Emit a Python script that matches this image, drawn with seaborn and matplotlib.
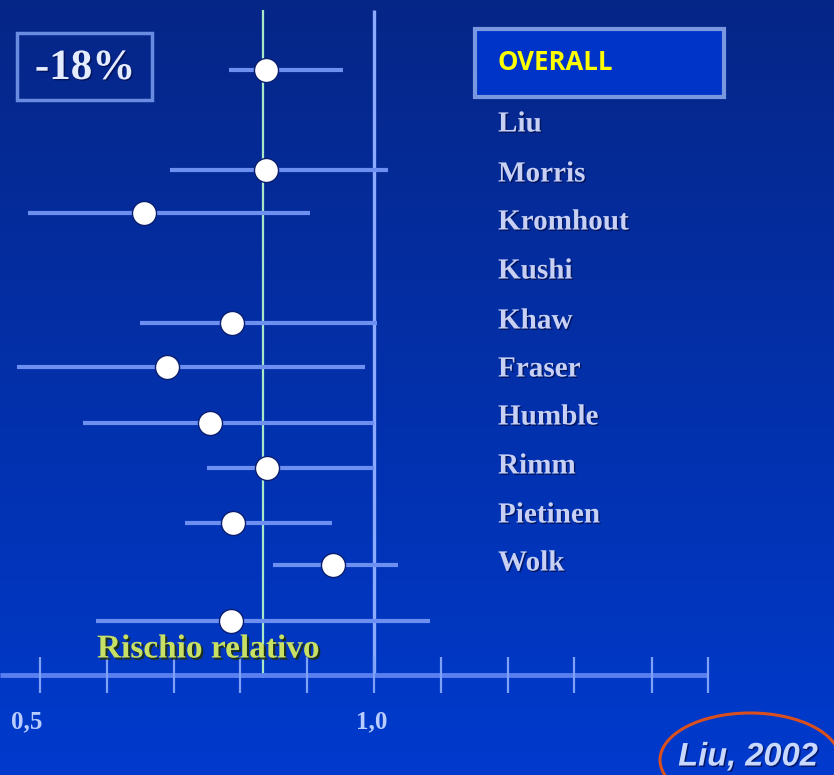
import numpy as np
import pandas as pd
import matplotlib
matplotlib.use("Agg")
import matplotlib.pyplot as plt
import seaborn as sns
from matplotlib.patches import Rectangle, Ellipse
import matplotlib.patheffects as pe

# Relative risk estimates with 95% confidence intervals (top row = pooled)
estimates = [0.838, 0.838, 0.656, 0.787, 0.690, 0.754, 0.840, 0.789, 0.939, 0.786]
ci_lower = [0.783, 0.695, 0.482, 0.650, 0.466, 0.564, 0.750, 0.717, 0.849, 0.584]
ci_upper = [0.954, 1.021, 0.904, 1.004, 0.987, 1.000, 1.000, 0.937, 1.036, 1.084]
pooled_rr = 0.834

study_names = ["Liu", "Morris", "Kromhout", "Kushi", "Khaw", "Fraser",
               "Humble", "Rimm", "Pietinen", "Wolk"]
tick_values = [0.5, 0.6, 0.7, 0.8, 0.9, 1.0, 1.1, 1.2, 1.3, 1.416, 1.5]
tick_labels = {0.5: "0,5", 1.0: "1,0"}

# vertical placement of rows and labels (figure pixels from the top)
row_y = [70, 170, 213, 323, 367, 423, 468, 523, 565, 621]
label_y = [124, 174, 222, 271, 321, 369, 417, 466, 515, 563]

W, H = 834, 775
fig = plt.figure(figsize=(W / 100, H / 100), dpi=100)

# blue slide background, darker at the top
bg = fig.add_axes([0, 0, 1, 1])
top = np.array([6, 38, 135]) / 255
bottom = np.array([0, 58, 205]) / 255
t = np.linspace(0, 1, 256)[:, None, None]
grad = top * (1 - t) + bottom * t
grad = np.repeat(grad, 4, axis=1)
bg.imshow(grad, aspect="auto", extent=[0, 1, 0, 1], origin="upper")
bg.axis("off")

# data axes: x in relative-risk units, y in pixel rows
ax = fig.add_axes([0, 0, 1, 1])
ax.patch.set_alpha(0)
x0 = 0.5 - 40 / 668
x1 = 0.5 + (W - 40) / 668
ax.set_xlim(x0, x1)
ax.set_ylim(H, 0)
ax.axis("off")

df = pd.DataFrame({"rr": estimates, "lo": ci_lower, "hi": ci_upper, "y": row_y})

ax.vlines(1.0, 10, 675, color="#8cabff", lw=2.4, zorder=2)
ax.vlines(pooled_rr, 10, 678, color="#a8e8c8", lw=1.6, zorder=2)
ax.hlines(df["y"], df["lo"], df["hi"], color="#6d8ff0", lw=3.0, zorder=3)
sns.scatterplot(data=df, x="rr", y="y", ax=ax, s=300, color="white",
                edgecolor="#0a1e70", linewidth=1.0, zorder=5, legend=False)

# relative-risk axis
ax.hlines(675, x0, 1.5, color="#5a80f0", lw=3.5, zorder=2)
ax.vlines(tick_values, 657, 693, color="#7ea0f5", lw=1.6, zorder=2)
for v, s in tick_labels.items():
    ax.text(v - 0.02 if v == 0.5 else v - 0.003, 722, s, ha="center", va="center",
            family="Liberation Serif", weight="bold", fontsize=18, color="#b8ccff")
ax.set_xlabel("")
ax.set_ylabel("")

# annotation layer in pixel coordinates
ov = fig.add_axes([0, 0, 1, 1])
ov.patch.set_alpha(0)
ov.set_xlim(0, W)
ov.set_ylim(H, 0)
ov.axis("off")

shadow = [pe.withSimplePatchShadow(offset=(1, -1), shadow_rgbFace="#001050", alpha=0.8)]

ov.add_patch(Rectangle((17, 33), 135, 67, fill=False, ec="#6a8ce0", lw=2.5))
ov.text(85, 69, "-18%", ha="center", va="center", family="Liberation Serif",
        weight="bold", fontsize=31, color="#e6ecff", path_effects=shadow)

ov.add_patch(Rectangle((475, 29), 249, 68, fc="#0033c8", ec="#7a98e0", lw=3.0))
ov.text(498, 62, "OVERALL", ha="left", va="center", family="Open Sans",
        weight="bold", fontsize=18.5, color="#ffff00")

for name, y in zip(study_names, label_y):
    ov.text(498, y, name, ha="left", va="center", family="Liberation Serif",
            weight="bold", fontsize=21, color="#c8d0f4", path_effects=shadow)

ov.text(97, 649, "Rischio relativo", ha="left", va="center",
        family="Liberation Serif", weight="bold", fontsize=24, color="#c8e064",
        path_effects=[pe.withSimplePatchShadow(offset=(1.5, -1.5),
                                               shadow_rgbFace="#203010", alpha=0.9)])

ov.add_patch(Ellipse((750, 760), 180, 94, fill=False, ec="#d9501e", lw=2.2))
ov.text(748, 757, "Liu, 2002", ha="center", va="center", family="Liberation Sans",
        weight="bold", style="italic", fontsize=23.5, color="#c8d8ff",
        path_effects=shadow)

fig.savefig("out.png", dpi=100)
